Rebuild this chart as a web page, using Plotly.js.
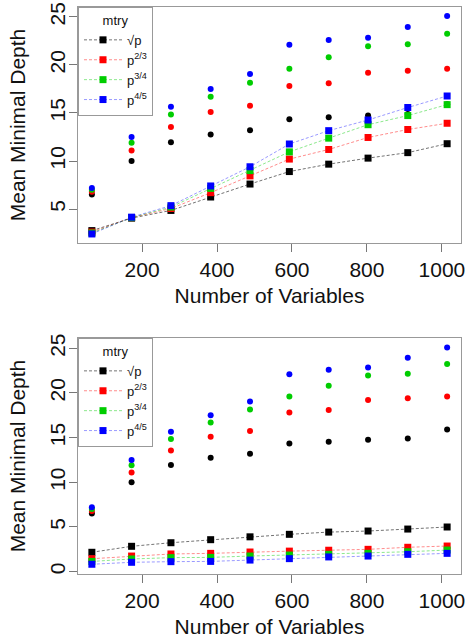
<!DOCTYPE html>
<html>
<head>
<meta charset="utf-8">
<script src="https://cdn.plot.ly/plotly-3.0.1.min.js"></script>
<style>
html,body{margin:0;padding:0;background:#fff;}
#chart{width:466px;height:642px;}
</style>
</head>
<body>
<div id="chart"></div>
<script>
// Number of variables
const xVals = [66, 172, 277, 383, 488, 593, 698, 803, 909, 1014];

// Circles (same in both panels)
const blackCircle = [6.5, 10.0, 11.95, 12.75, 13.2, 14.35, 14.55, 14.75, 14.9, 15.9];
const redCircle   = [6.8, 11.1, 13.55, 15.1, 15.75, 17.8, 18.1, 19.2, 19.4, 19.6];
const greenCircle = [7.0, 11.9, 14.85, 16.7, 18.15, 19.6, 20.8, 21.95, 22.15, 23.25];
const blueCircle  = [7.2, 12.5, 15.65, 17.5, 19.05, 22.1, 22.6, 22.85, 23.95, 25.1];

// Squares, top panel
const blackTop = [2.75, 4.05, 4.85, 6.25, 7.6, 8.9, 9.67, 10.3, 10.87, 11.8];
const redTop   = [2.6, 4.1, 5.05, 6.7, 8.45, 10.2, 11.2, 12.45, 13.28, 13.93];
const greenTop = [2.5, 4.1, 5.2, 7.15, 9.0, 10.95, 12.38, 13.78, 14.73, 15.87];
const blueTop  = [2.4, 4.15, 5.35, 7.4, 9.4, 11.77, 13.16, 14.27, 15.57, 16.77];

// Squares, bottom panel
const blackBot = [2.17, 2.84, 3.24, 3.58, 3.9, 4.18, 4.43, 4.55, 4.77, 5.0];
const redBot   = [1.45, 1.75, 1.98, 2.05, 2.2, 2.3, 2.4, 2.5, 2.73, 2.87];
const greenBot = [1.15, 1.42, 1.57, 1.6, 1.75, 1.86, 1.94, 2.05, 2.23, 2.42];
const blueBot  = [0.83, 1.05, 1.12, 1.15, 1.3, 1.46, 1.65, 1.75, 1.94, 2.05];

const seriesNames = ['√p', 'p<sup>2/3</sup>', 'p<sup>3/4</sup>', 'p<sup>4/5</sup>'];
const colors = ['#000000', '#ff0000', '#00cd00', '#0000ff'];
const lineColors = ['rgba(0,0,0,0.55)', 'rgba(255,0,0,0.45)', 'rgba(0,205,0,0.45)', 'rgba(0,0,255,0.4)'];

const circles = [blackCircle, redCircle, greenCircle, blueCircle];
const topSq = [blackTop, redTop, greenTop, blueTop];
const botSq = [blackBot, redBot, greenBot, blueBot];

const traces = [];
function addPanel(sq, xa, ya, legendId) {
  circles.forEach((c, i) => {
    traces.push({
      x: xVals, y: c, xaxis: xa, yaxis: ya, type: 'scatter', mode: 'markers',
      marker: {symbol: 'circle', size: 6, color: colors[i]},
      showlegend: false, hoverinfo: 'skip'
    });
  });
  sq.forEach((s, i) => {
    traces.push({
      x: xVals, y: s, xaxis: xa, yaxis: ya, type: 'scatter', mode: 'lines+markers',
      name: seriesNames[i], legend: legendId,
      marker: {symbol: 'square', size: 7, color: colors[i]},
      line: {color: lineColors[i], width: 1, dash: '3px,2px'}
    });
  });
}
addPanel(topSq, 'x', 'y', 'legend');
addPanel(botSq, 'x2', 'y2', 'legend2');

const fontFam = '"Liberation Sans", Arial, Helvetica, sans-serif';
const axisCommon = {
  showgrid: false, zeroline: false, showline: true, mirror: true,
  linecolor: '#999999', linewidth: 1,
  ticks: 'outside', ticklen: 8, tickcolor: '#777777', tickwidth: 1,
  tickfont: {family: fontFam, size: 21, color: '#111'}
};
const xCommon = Object.assign({}, axisCommon, {
  range: [29, 1051], tick0: 200, dtick: 200,
  title: {text: 'Number of Variables', font: {family: fontFam, size: 21, color: '#111'}, standoff: 8}
});
const yCommon = Object.assign({}, axisCommon, {
  tickangle: -90, dtick: 5, tick0: 0, ticklabelstandoff: -4,
  title: {text: 'Mean Minimal Depth', font: {family: fontFam, size: 21, color: '#111'}, standoff: 14}
});

const legendCommon = {
  x: 0, xanchor: 'left', yanchor: 'top',
  bgcolor: '#ffffff', bordercolor: '#999999', borderwidth: 1,
  font: {family: fontFam, size: 13, color: '#111'},
  title: {text: 'mtry', side: 'top center', font: {family: fontFam, size: 13, color: '#111'}},
  tracegroupgap: 0, itemwidth: 38, itemclick: false
};

const layout = {
  width: 466, height: 642,
  margin: {l: 78, r: 5, t: 7, b: 68},
  paper_bgcolor: '#ffffff', plot_bgcolor: '#ffffff',
  showlegend: true,
  xaxis: Object.assign({}, xCommon, {domain: [0, 1], anchor: 'y'}),
  yaxis: Object.assign({}, yCommon, {domain: [0.5838, 1], range: [1.46, 26.04], anchor: 'x'}),
  xaxis2: Object.assign({}, xCommon, {domain: [0, 1], anchor: 'y2'}),
  yaxis2: Object.assign({}, yCommon, {domain: [0, 0.4162], range: [-0.26, 26.15], anchor: 'x2'}),
  legend: Object.assign({}, legendCommon, {y: 1}),
  legend2: Object.assign({}, legendCommon, {y: 0.4162})
};

Plotly.newPlot('chart', traces, layout, {staticPlot: true, displayModeBar: false});
</script>
</body>
</html>
